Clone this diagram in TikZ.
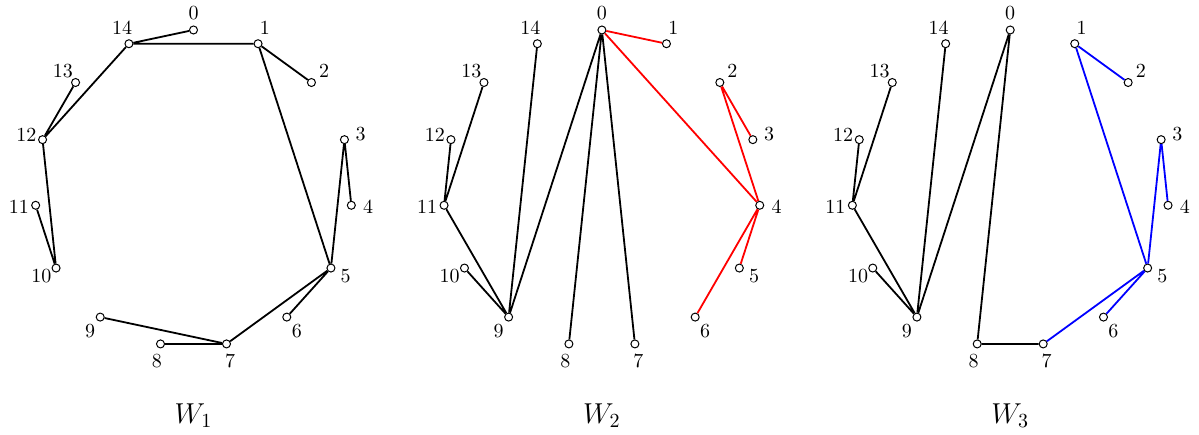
\documentclass[tikz,border=0pt]{standalone}
\begin{document}
\begin{tikzpicture}[x=0.5pt,y=0.5pt,
  vtx/.style={circle,draw,fill=white,line width=0.5pt,minimum size=4pt,inner sep=0pt},
  lbl/.style={inner sep=0pt,font=\normalsize},
  edge/.style={line width=0.9pt,black},
  redge/.style={line width=0.9pt,red},
  bedge/.style={line width=0.9pt,blue},
  ttl/.style={inner sep=0pt,anchor=base,font=\Large}]
\useasboundingbox (0,0) rectangle (1199,434);
% panel centres
\foreach \p/\cx in {a/193.5,b/601.9,c/1010.2}{
  \begin{scope}[shift={(\cx,245.3)}]
    \foreach \k in {0,...,14}{
      \node[vtx] (\p\k) at ({90-24*\k}:158.7) {};
      \node[lbl] (\p l\k) at ({90-24*\k}:175.7) {\k};
    }
  \end{scope}
}
% titles
\node[ttl] (ta) at (193.5,11) {$W_1$};
\node[ttl] (tb) at (601.9,11) {$W_2$};
\node[ttl] (tc) at (1010.2,11) {$W_3$};
% W1
\draw[edge] (a14)--(a0) (a14)--(a1) (a1)--(a2) (a1)--(a5) (a14)--(a12)
  (a12)--(a13) (a12)--(a10) (a10)--(a11) (a3)--(a4) (a3)--(a5)
  (a5)--(a6) (a5)--(a7) (a7)--(a8) (a7)--(a9);
% W2
\draw[edge] (b0)--(b9) (b0)--(b8) (b0)--(b7) (b14)--(b9) (b9)--(b11)
  (b9)--(b10) (b11)--(b12) (b11)--(b13);
\draw[redge] (b0)--(b1) (b0)--(b4) (b4)--(b2) (b2)--(b3) (b4)--(b5) (b4)--(b6);
% W3
\draw[edge] (c0)--(c9) (c0)--(c8) (c14)--(c9) (c9)--(c11) (c9)--(c10)
  (c11)--(c12) (c11)--(c13) (c8)--(c7);
\draw[bedge] (c7)--(c5) (c5)--(c6) (c5)--(c3) (c3)--(c4) (c5)--(c1) (c1)--(c2);
\end{tikzpicture}
\end{document}
